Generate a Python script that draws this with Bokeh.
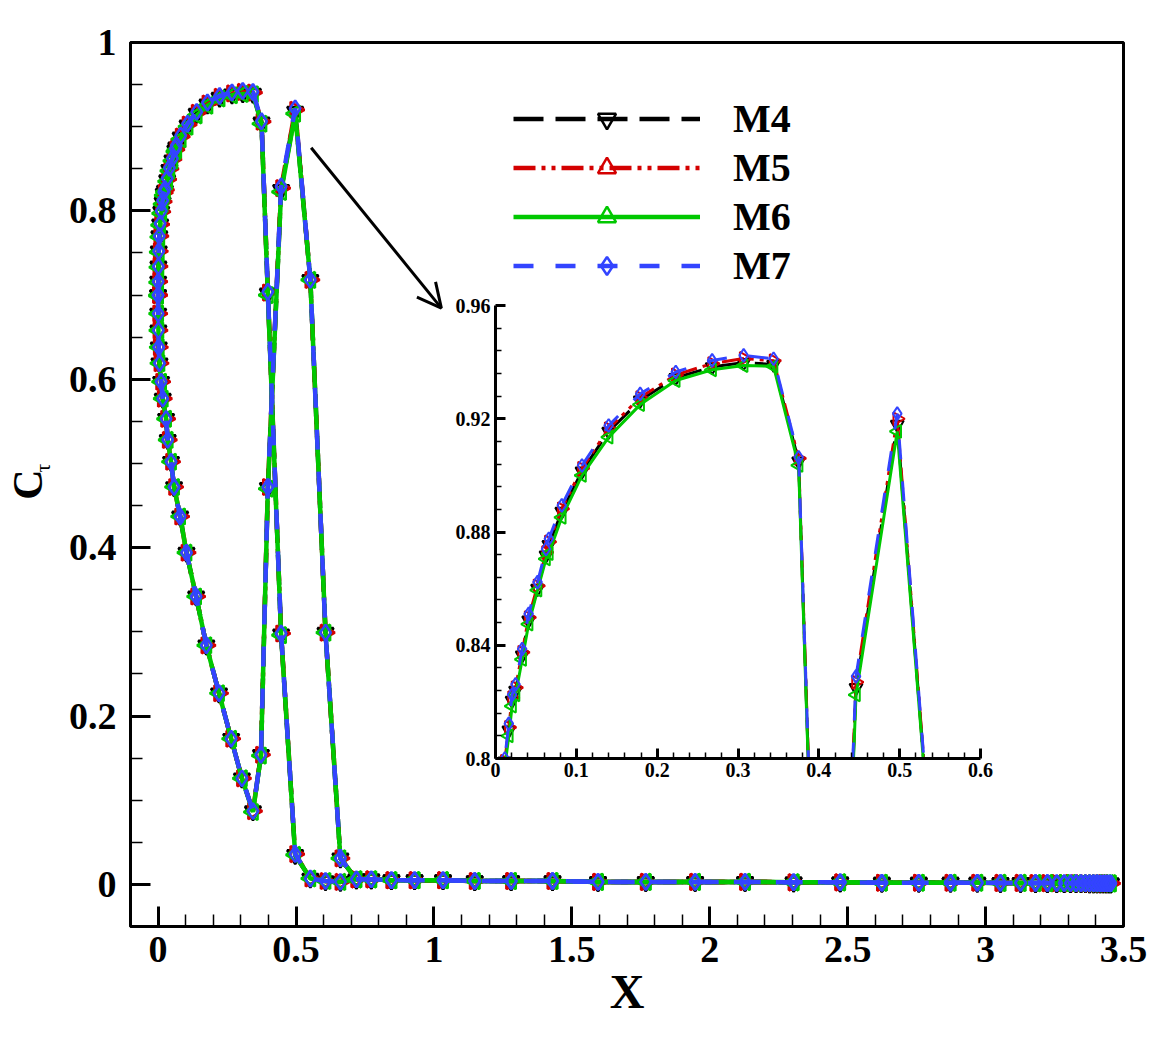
import numpy as np
from bokeh.plotting import figure
from bokeh.models import (Range1d, FixedTicker, CustomJSTickFormatter, Legend, LegendItem,
                          LinearAxis, Arrow, OpenHead)
from bokeh.layouts import column
from bokeh.embed import file_html
from bokeh.resources import INLINE

# ---------------- data ----------------
series = ["M4", "M5", "M6", "M7"]

# upper branch (surface part)
x_up_foil = [0.0, 0.0004, 0.0012, 0.0025, 0.0045, 0.0075, 0.0115, 0.0165, 0.0205, 0.0248,
             0.033, 0.041, 0.052, 0.0625, 0.066, 0.082, 0.107, 0.140, 0.179, 0.223,
             0.268, 0.307, 0.344, 0.375, 0.398, 0.446, 0.497]
y_up_M4 = [0.700, 0.716, 0.734, 0.752, 0.770, 0.784, 0.799, 0.8100, 0.8205, 0.8240,
           0.8365, 0.8488, 0.8600, 0.8718, 0.8755, 0.8872, 0.9015, 0.9155, 0.9265, 0.9345,
           0.9383, 0.9398, 0.9392, 0.9050, 0.702, 0.297, 0.035]
y_up_M5 = [0.700, 0.716, 0.734, 0.752, 0.770, 0.784, 0.799, 0.8110, 0.8215, 0.8250,
           0.8375, 0.8498, 0.8610, 0.8728, 0.8765, 0.8882, 0.9025, 0.9165, 0.9275, 0.9355,
           0.9395, 0.9413, 0.9405, 0.9060, 0.703, 0.298, 0.036]
y_up_M6 = [0.699, 0.715, 0.733, 0.751, 0.769, 0.783, 0.797, 0.8080, 0.8185, 0.8225,
           0.8350, 0.8475, 0.8595, 0.8705, 0.8724, 0.8852, 0.9000, 0.9135, 0.9250, 0.9335,
           0.9373, 0.9388, 0.9385, 0.9035, 0.700, 0.296, 0.035]
y_up_M7 = [0.700, 0.716, 0.734, 0.752, 0.770, 0.785, 0.800, 0.8123, 0.8225, 0.8262,
           0.8387, 0.8511, 0.8623, 0.8740, 0.8776, 0.8894, 0.9035, 0.9176, 0.9288, 0.9365,
           0.9406, 0.9424, 0.9412, 0.9064, 0.704, 0.298, 0.036]

# lower branch (surface part)
x_lo_foil = [0.0, 0.0004, 0.0012, 0.0025, 0.005, 0.011, 0.017, 0.029, 0.035, 0.047,
             0.058, 0.080, 0.103, 0.138, 0.175, 0.221, 0.265, 0.304, 0.344, 0.373,
             0.398, 0.446, 0.497]
y_lo_M4 = [0.700, 0.678, 0.658, 0.638, 0.619, 0.597, 0.577, 0.553, 0.528, 0.502,
           0.472, 0.437, 0.394, 0.342, 0.284, 0.227, 0.173, 0.126, 0.087, 0.154,
           0.471, 0.825, 0.9180]
y_lo_M5 = [0.700, 0.678, 0.658, 0.638, 0.619, 0.597, 0.577, 0.553, 0.528, 0.502,
           0.472, 0.437, 0.394, 0.342, 0.284, 0.227, 0.173, 0.126, 0.087, 0.154,
           0.472, 0.827, 0.9200]
y_lo_M6 = [0.700, 0.678, 0.658, 0.638, 0.619, 0.597, 0.577, 0.553, 0.528, 0.502,
           0.472, 0.437, 0.394, 0.342, 0.284, 0.227, 0.173, 0.126, 0.086, 0.153,
           0.470, 0.8225, 0.9155]
y_lo_M7 = [0.700, 0.678, 0.658, 0.638, 0.619, 0.597, 0.577, 0.553, 0.528, 0.502,
           0.472, 0.437, 0.394, 0.342, 0.284, 0.227, 0.173, 0.126, 0.087, 0.154,
           0.472, 0.829, 0.9218]

# transition to the wake
x_mid = [0.552, 0.607, 0.661]
y_up_mid = [0.007, 0.004, 0.003]
y_lo_mid = [0.718, 0.299, 0.031]

# wake (shared)
x_wake = [0.719, 0.773, 0.846, 0.930, 1.033, 1.148, 1.280, 1.430, 1.595, 1.768,
          1.947, 2.128, 2.304, 2.473, 2.624, 2.758, 2.873, 2.970, 3.054, 3.127,
          3.181, 3.224, 3.258, 3.285, 3.308, 3.328, 3.346, 3.362, 3.377, 3.391,
          3.404, 3.416, 3.427, 3.437, 3.446, 3.454]
y_wake = [0.006, 0.006, 0.005, 0.005, 0.005, 0.004, 0.004, 0.004, 0.003, 0.003,
          0.003, 0.003, 0.0025, 0.0025, 0.002, 0.002, 0.002, 0.002, 0.0018, 0.0018,
          0.0016, 0.0016, 0.0015, 0.0015, 0.0015, 0.0014, 0.0014, 0.0014, 0.0013, 0.0013,
          0.0013, 0.0012, 0.0012, 0.0012, 0.0012, 0.0012]

y_up = {"M4": y_up_M4, "M5": y_up_M5, "M6": y_up_M6, "M7": y_up_M7}
y_lo = {"M4": y_lo_M4, "M5": y_lo_M5, "M6": y_lo_M6, "M7": y_lo_M7}

main_xticks = [0, 0.5, 1, 1.5, 2, 2.5, 3, 3.5]
main_yticks = [0, 0.2, 0.4, 0.6, 0.8, 1.0]
inset_xticks = [0, 0.1, 0.2, 0.3, 0.4, 0.5, 0.6]
inset_yticks = [0.8, 0.84, 0.88, 0.92, 0.96]

# ---------------- styles ----------------
colors = {"M4": "black", "M5": "#d40000", "M6": "#00c800", "M7": "#3344ff"}
dashes = {"M4": "30 12", "M5": "22 6 4 6 4 6", "M6": "solid", "M7": "20 22"}
markers = {"M4": "inverted_triangle", "M5": "triangle", "M6": "triangle", "M7": "diamond"}
angles = {"M4": 0.0, "M5": -np.pi / 2, "M6": np.pi / 2, "M7": 0.0}

FONT = "Liberation Serif"
fmt = CustomJSTickFormatter(code="return parseFloat(tick.toFixed(3)).toString();")

W, H = 1165, 1035
BL, BR, BT, BB = 130, W - 1123, 42, H - 926
NBSP = "\u00a0"


def minor(ticks, n):
    out = []
    for a, b in zip(ticks[:-1], ticks[1:]):
        out += list(np.linspace(a, b, n + 1)[1:-1])
    return out


def style_axis(ax, ticks, nminor, tick_in, mtick_in, size, standoff):
    ax.ticker = FixedTicker(ticks=ticks, minor_ticks=minor(ticks, nminor))
    ax.formatter = fmt
    ax.axis_line_width = 3
    ax.axis_line_color = "black"
    ax.major_tick_in = tick_in
    ax.major_tick_out = 0
    ax.major_tick_line_width = 3
    ax.minor_tick_in = mtick_in
    ax.minor_tick_out = 0
    ax.minor_tick_line_width = 1.5
    ax.major_label_text_font = FONT
    ax.major_label_text_font_style = "bold"
    ax.major_label_text_font_size = size
    ax.major_label_text_color = "black"
    ax.major_label_standoff = standoff


def draw(fig, lw, ms, mlw):
    rends = {}
    for s in series:
        ux = x_up_foil + x_mid + x_wake
        uy = y_up[s] + y_up_mid + y_wake
        lx = x_lo_foil + x_mid + x_wake
        ly = y_lo[s] + y_lo_mid + y_wake
        l1 = fig.line(ux, uy, line_color=colors[s], line_width=lw, line_dash=dashes[s])
        fig.line(lx, ly, line_color=colors[s], line_width=lw, line_dash=dashes[s])
        s1 = fig.scatter(ux, uy, marker=markers[s], angle=angles[s], size=ms,
                         line_color=colors[s], line_width=mlw, fill_alpha=0)
        fig.scatter(lx, ly, marker=markers[s], angle=angles[s], size=ms,
                    line_color=colors[s], line_width=mlw, fill_alpha=0)
        rends[s] = [l1, s1]
    return rends


# ---------------- main figure ----------------
p = figure(width=W, height=H, x_range=Range1d(-0.1, 3.5), y_range=Range1d(-0.05, 1.0),
           output_backend="svg", toolbar_location=None,
           min_border_left=BL, min_border_right=BR, min_border_top=BT, min_border_bottom=BB)
p.grid.visible = False
p.outline_line_color = "black"
p.outline_line_width = 3
p.outline_line_alpha = 1
style_axis(p.xaxis[0], main_xticks, 5, 20, 12, "38px", 10)
style_axis(p.yaxis[0], main_yticks, 4, 20, 12, "38px", 14)
p.xaxis.axis_label = "X"
p.xaxis.axis_label_text_font = FONT
p.xaxis.axis_label_text_font_style = "bold"
p.xaxis.axis_label_text_font_size = "48px"
p.xaxis.axis_label_text_color = "black"
p.xaxis.axis_label_standoff = 0

# y-axis title: subscript "τ" on the inner axis, "C" on an outer, tick-less axis
p.yaxis.axis_label = NBSP * 6 + "τ"
p.yaxis.axis_label_text_font = FONT
p.yaxis.axis_label_text_font_style = "normal"
p.yaxis.axis_label_text_font_size = "22px"
p.yaxis.axis_label_text_color = "black"
p.yaxis.axis_label_standoff = 11

outer = LinearAxis(ticker=FixedTicker(ticks=[]), axis_line_alpha=0,
                   major_tick_out=0, major_tick_in=0, minor_tick_out=0, minor_tick_in=0,
                   major_label_standoff=0, major_label_text_alpha=0,
                   axis_label="C", axis_label_text_font=FONT,
                   axis_label_text_font_style="bold", axis_label_text_font_size="42px",
                   axis_label_text_color="black", axis_label_standoff=-24)
p.add_layout(outer, "left")

rends = draw(p, 4.5, 16, 2.5)

legend = Legend(items=[LegendItem(label=s, renderers=rends[s]) for s in series],
                location=(383, 637), glyph_width=187, glyph_height=45, label_height=45,
                spacing=2, label_standoff=33, padding=0, margin=0,
                border_line_alpha=0, background_fill_alpha=0,
                label_text_font=FONT, label_text_font_style="bold",
                label_text_font_size="40px", label_text_color="black")
p.add_layout(legend)

p.add_layout(Arrow(end=OpenHead(size=24, line_width=3, line_color="black"),
                   x_start=0.555, y_start=0.875, x_end=1.027, y_end=0.6845,
                   line_width=3, line_color="black"))

# ---------------- inset ----------------
IW = BL + 485 + BR
ins = figure(width=IW, height=498, x_range=Range1d(0, 0.6), y_range=Range1d(0.8, 0.96),
             output_backend="svg", toolbar_location=None,
             min_border_left=BL, min_border_right=BR, min_border_top=15, min_border_bottom=30)
ins.grid.visible = False
ins.outline_line_alpha = 0
ins.background_fill_alpha = 0
ins.border_fill_alpha = 0
style_axis(ins.xaxis[0], inset_xticks, 5, 10, 6, "20px", 4)
style_axis(ins.yaxis[0], inset_yticks, 5, 10, 6, "20px", 5)
draw(ins, 3, 13, 2)
ins.styles = {"position": "absolute", "left": f"{495 - BL}px", "top": "290px"}

layout = column(p, ins)
open("out.html", "w").write(file_html(layout, INLINE))
